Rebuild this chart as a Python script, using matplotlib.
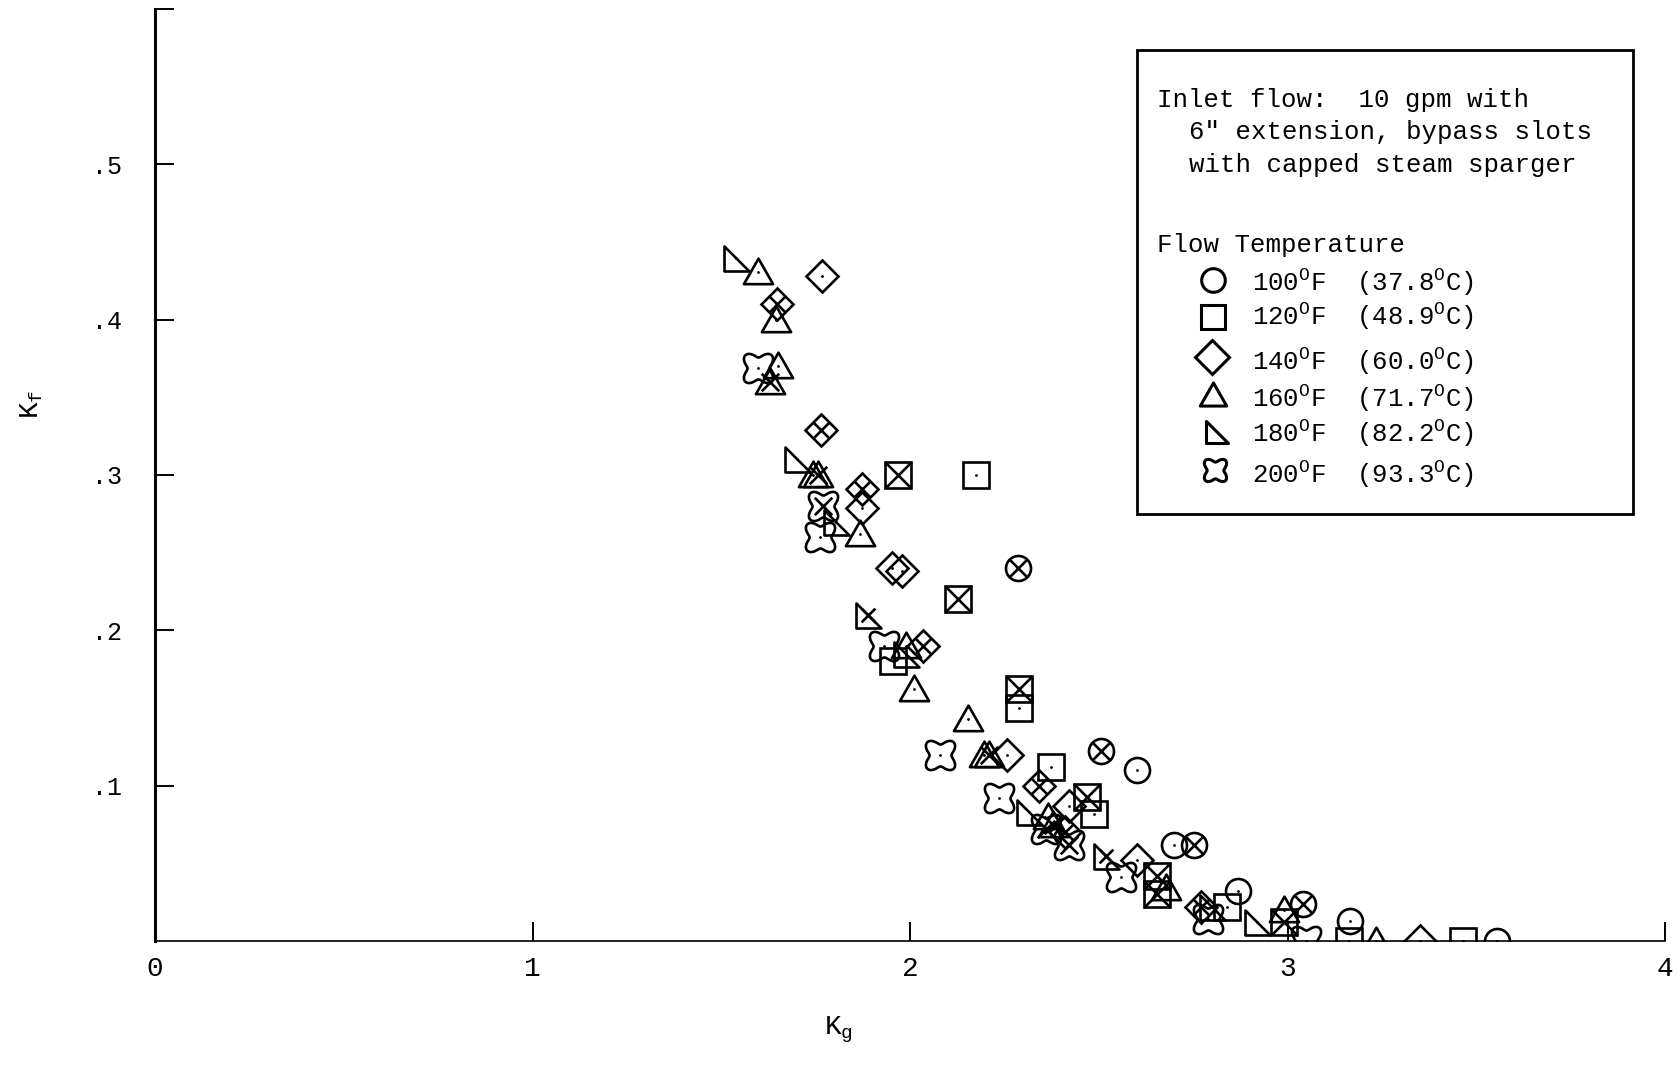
import numpy as np
import matplotlib
matplotlib.use("Agg")
import matplotlib.pyplot as plt
from matplotlib.path import Path
from matplotlib.lines import Line2D
from matplotlib.patches import Rectangle

plt.rcParams['font.family'] = ['Liberation Mono', 'DejaVu Sans Mono']
plt.rcParams['mathtext.fontset'] = 'custom'
plt.rcParams['mathtext.rm'] = 'Liberation Mono'
plt.rcParams['mathtext.it'] = 'Liberation Mono'
plt.rcParams['mathtext.default'] = 'rm'

# ---- measured K_g / K_f pairs, by flow temperature ----
# open symbols
kg_100 = [2.60, 2.70, 2.87, 3.165, 3.555]
kf_100 = [0.110, 0.062, 0.032, 0.013, 0.000]
# symbols drawn with an inner cross
kg_100x = [2.286, 2.507, 2.753, 3.04]
kf_100x = [0.240, 0.122, 0.062, 0.024]

kg_120 = [2.176, 2.289, 2.374, 2.487, 1.955, 2.84, 3.164, 3.465]
kf_120 = [0.300, 0.150, 0.112, 0.082, 0.180, 0.022, 0.000, 0.000]
kg_120x = [1.969, 2.127, 2.289, 2.47, 2.654, 2.99, 2.655]
kf_120x = [0.300, 0.220, 0.162, 0.093, 0.042, 0.012, 0.030]

kg_140 = [1.768, 1.873, 1.952, 1.98, 2.258, 2.60, 3.35, 2.42]
kf_140 = [0.428, 0.279, 0.240, 0.238, 0.120, 0.052, 0.000, 0.087]
kg_140x = [1.649, 1.765, 1.873, 2.034, 2.343, 2.77, 2.41]
kf_140x = [0.410, 0.329, 0.291, 0.190, 0.100, 0.022, 0.070]

kg_160 = [1.598, 1.646, 1.65, 1.742, 1.867, 2.01, 2.153, 2.195, 2.365, 2.677, 3.235, 2.99, 1.99]
kf_160 = [0.431, 0.400, 0.370, 0.300, 0.262, 0.162, 0.143, 0.120, 0.080, 0.034, 0.000, 0.020, 0.190]
kg_160x = [1.63, 1.755, 2.21, 2.38]
kf_160x = [0.360, 0.300, 0.120, 0.075]

kg_180 = [1.538, 1.70, 1.805, 2.314, 2.80, 2.918, 1.99]
kf_180 = [0.440, 0.310, 0.270, 0.083, 0.022, 0.012, 0.185]
kg_180x = [1.89, 2.52]
kf_180x = [0.210, 0.055]

kg_200 = [1.598, 1.762, 1.93, 2.08, 2.235, 2.558, 2.79, 3.05]
kf_200 = [0.369, 0.260, 0.190, 0.120, 0.092, 0.041, 0.014, 0.000]
kg_200x = [1.77, 2.42, 2.36]
kf_200x = [0.280, 0.062, 0.072]

xticks = [0, 1, 2, 3, 4]
xtick_labels = ['0', '1', '2', '3', '4']
yticks = [0.1, 0.2, 0.3, 0.4, 0.5, 0.6]
ytick_labels = ['.1', '.2', '.3', '.4', '.5', '']

legend_title = ["Inlet flow:  10 gpm with",
                "6\" extension, bypass slots",
                "with capped steam sparger"]
legend_head = "Flow Temperature"
legend_labels = ["100$^{\\rm O}$F  (37.8$^{\\rm O}$C)",
                 "120$^{\\rm O}$F  (48.9$^{\\rm O}$C)",
                 "140$^{\\rm O}$F  (60.0$^{\\rm O}$C)",
                 "160$^{\\rm O}$F  (71.7$^{\\rm O}$C)",
                 "180$^{\\rm O}$F  (82.2$^{\\rm O}$C)",
                 "200$^{\\rm O}$F  (93.3$^{\\rm O}$C)"]

# ---- marker shapes ----
tri_up = Path([(-1, -0.8), (1, -0.8), (0, 0.95), (-1, -0.8)],
              [Path.MOVETO, Path.LINETO, Path.LINETO, Path.CLOSEPOLY])
tri_right = Path([(-1, 1), (-1, -1), (1, -1), (-1, 1)],
                 [Path.MOVETO, Path.LINETO, Path.LINETO, Path.CLOSEPOLY])
th = np.linspace(0, 2 * np.pi, 121)
r = 1 - 0.26 * np.cos(4 * th)
star = Path(np.column_stack([r * np.cos(th), r * np.sin(th)]), closed=True)
xcross = Path([(-1, -1), (1, 1), (-1, 1), (1, -1)],
              [Path.MOVETO, Path.LINETO, Path.MOVETO, Path.LINETO])

styles = {
    100: dict(marker='o', ms=18),
    120: dict(marker='s', ms=19),
    140: dict(marker='D', ms=16.5),
    160: dict(marker=tri_up, ms=21),
    180: dict(marker=tri_right, ms=18),
    200: dict(marker=star, ms=21),
}
# inner cross size relative to the symbol
cross_scale = {100: 0.68, 120: 1.0, 140: 0.72, 160: 0.6, 180: 0.55, 200: 0.6}

series = {
    100: (kg_100, kf_100, kg_100x, kf_100x),
    120: (kg_120, kf_120, kg_120x, kf_120x),
    140: (kg_140, kf_140, kg_140x, kf_140x),
    160: (kg_160, kf_160, kg_160x, kf_160x),
    180: (kg_180, kf_180, kg_180x, kf_180x),
    200: (kg_200, kf_200, kg_200x, kf_200x),
}

W, H = 1677, 1065
fig = plt.figure(figsize=(W / 100, H / 100), dpi=100)
ax = fig.add_axes([155 / W, 1 - 941 / H, 1510 / W, 932 / H])

mew = 1.9
for t, (xo, yo, xc, yc) in series.items():
    st = styles[t]
    ax.plot(xo, yo, ls='none', marker=st['marker'], ms=st['ms'],
            mfc='none', mec='black', mew=mew)
    ax.plot(xo, yo, ls='none', marker='.', ms=2.0, color='black')
    ax.plot(xc, yc, ls='none', marker=st['marker'], ms=st['ms'],
            mfc='none', mec='black', mew=mew)
    ax.plot(xc, yc, ls='none', marker=xcross, ms=st['ms'] * cross_scale[t],
            mfc='none', mec='black', mew=mew)

ax.set_xlim(0, 4)
ax.set_ylim(0, 0.6)
ax.set_xticks(xticks)
ax.set_xticklabels(xtick_labels)
ax.set_yticks(yticks)
ax.set_yticklabels(ytick_labels)
ax.tick_params(axis='both', direction='in', length=14, width=1.4)
ax.tick_params(axis='y', pad=24, labelsize=18)
ax.tick_params(axis='x', pad=11, labelsize=20)
for s in ['top', 'right']:
    ax.spines[s].set_visible(False)
ax.spines['left'].set_linewidth(2.2)
ax.spines['bottom'].set_linewidth(1.2)
ax.patch.set_alpha(0)


def fx(px):
    return px / W


def fy(py):
    return 1 - py / H


# axis titles
fig.text(fx(32), fy(404), "K$_{\\rm f}$", rotation=90, fontsize=20,
         ha='center', va='center')
fig.text(fx(838), fy(1030), "K$_{\\rm g}$", fontsize=20,
         ha='center', va='center')

# key box
fig.add_artist(Rectangle((fx(1137), fy(514)), fx(1633) - fx(1137),
                         fy(50) - fy(514), transform=fig.transFigure,
                         fill=False, lw=2.0, ec='black'))
fs = 18.5
fig.text(fx(1157), fy(107), legend_title[0], fontsize=fs, va='baseline')
fig.text(fx(1189), fy(139), legend_title[1], fontsize=fs, va='baseline')
fig.text(fx(1189), fy(172), legend_title[2], fontsize=fs, va='baseline')
fig.text(fx(1157), fy(252), legend_head, fontsize=fs, va='baseline')

entry_base = [291, 325, 370, 407, 442, 483]
marker_y = [280, 317, 357, 395, 432, 470]
marker_x = [1213, 1213, 1212, 1213, 1217, 1215]
key_ms = {100: 17, 120: 17, 140: 17, 160: 19, 180: 16, 200: 16}
for i, t in enumerate(styles):
    fig.add_artist(Line2D([fx(marker_x[i])], [fy(marker_y[i])],
                          transform=fig.transFigure, ls='none',
                          marker=styles[t]['marker'], ms=key_ms[t],
                          mfc='none', mec='black', mew=2.2))
    fig.text(fx(1252), fy(entry_base[i]), legend_labels[i], fontsize=fs,
             va='baseline')

fig.savefig("out.png", dpi=100, facecolor='white')
